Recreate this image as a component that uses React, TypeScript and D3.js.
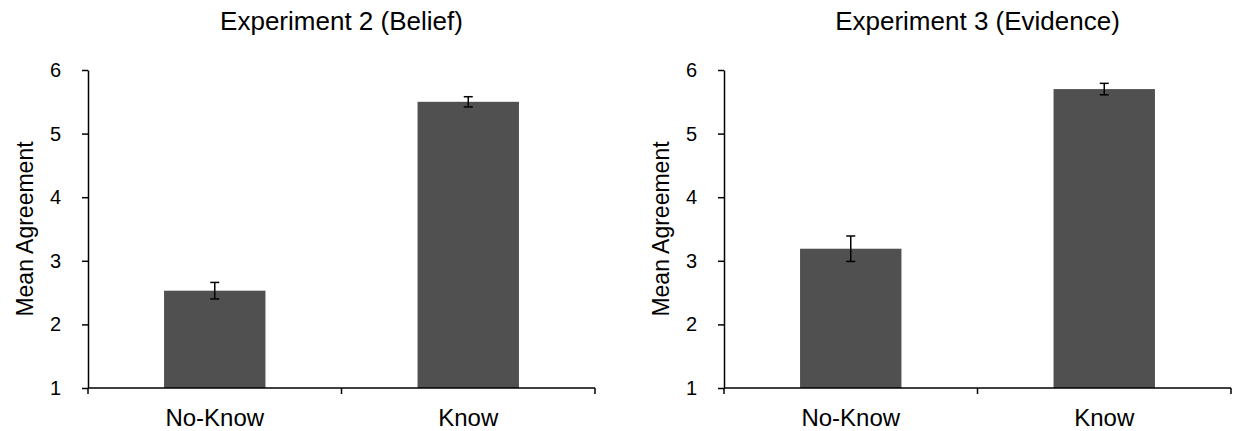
import React, { useEffect, useRef } from 'react';
import * as d3 from 'd3';

const categories = ['No-Know', 'Know'];
const yTicks = [1, 2, 3, 4, 5, 6];

const beliefMeans = [2.53, 5.5];
const beliefErrors = [0.13, 0.08];

const evidenceMeans = [3.19, 5.7];
const evidenceErrors = [0.2, 0.09];

const FONT = '"Liberation Sans", Arial, Helvetica, sans-serif';

type PanelProps = {
  title: string;
  means: number[];
  errors: number[];
  left: number;
};

const Panel = ({ title, means, errors, left }: PanelProps) => {
  const gRef = useRef<SVGGElement>(null);

  useEffect(() => {
    const g = d3.select(gRef.current);
    g.selectAll('*').remove();

    const axisLeft = left;
    const axisRight = left + 507;
    const top = 70;
    const bottom = 388;

    const x = d3.scaleBand<string>()
      .domain(categories)
      .range([axisLeft, axisRight])
      .paddingInner(0.6)
      .paddingOuter(0.3);

    const y = d3.scaleLinear().domain([1, 6]).range([bottom, top]);

    const data = categories.map((c, i) => ({ cat: c, mean: means[i], err: errors[i] }));

    // bars
    g.selectAll('rect.bar')
      .data(data)
      .enter().append('rect')
      .attr('class', 'bar')
      .attr('x', d => x(d.cat)!)
      .attr('width', x.bandwidth())
      .attr('y', d => y(d.mean))
      .attr('height', d => y(1) - y(d.mean))
      .attr('fill', '#505050');

    // error bars
    const eb = g.selectAll('g.err')
      .data(data)
      .enter().append('g')
      .attr('class', 'err')
      .attr('stroke', '#000')
      .attr('stroke-width', 1.5);
    const cx = (d: { cat: string }) => x(d.cat)! + x.bandwidth() / 2;
    eb.append('line')
      .attr('x1', cx).attr('x2', cx)
      .attr('y1', d => y(d.mean + d.err)).attr('y2', d => y(d.mean - d.err));
    eb.append('line')
      .attr('x1', d => cx(d) - 4.5).attr('x2', d => cx(d) + 4.5)
      .attr('y1', d => y(d.mean + d.err)).attr('y2', d => y(d.mean + d.err));
    eb.append('line')
      .attr('x1', d => cx(d) - 4.5).attr('x2', d => cx(d) + 4.5)
      .attr('y1', d => y(d.mean - d.err)).attr('y2', d => y(d.mean - d.err));

    // y axis
    const yAxis = g.append('g')
      .attr('transform', `translate(${axisLeft},0)`)
      .call(d3.axisLeft(y).tickValues(yTicks).tickFormat(d3.format('d')).tickSize(6).tickSizeOuter(0).tickPadding(21));
    yAxis.select('.domain').attr('stroke-width', 1.5);
    yAxis.selectAll('.tick line').attr('stroke-width', 1.5);
    yAxis.selectAll('.tick text')
      .attr('font-family', FONT)
      .attr('font-size', 20)
      .attr('fill', '#000');

    // x axis
    g.append('line')
      .attr('x1', axisLeft).attr('x2', axisRight)
      .attr('y1', bottom).attr('y2', bottom)
      .attr('stroke', '#000').attr('stroke-width', 1.5);
    const boundaries = [axisLeft, (axisLeft + axisRight) / 2, axisRight];
    g.selectAll('line.xtick')
      .data(boundaries)
      .enter().append('line')
      .attr('class', 'xtick')
      .attr('x1', d => d).attr('x2', d => d)
      .attr('y1', bottom).attr('y2', bottom + 6)
      .attr('stroke', '#000').attr('stroke-width', 1.5);

    g.selectAll('text.cat')
      .data(categories)
      .enter().append('text')
      .attr('class', 'cat')
      .attr('x', d => x(d)! + x.bandwidth() / 2)
      .attr('y', 426)
      .attr('text-anchor', 'middle')
      .attr('font-family', FONT)
      .attr('font-size', 24)
      .text(d => d);

    // y label
    g.append('text')
      .attr('transform', `translate(${axisLeft - 55},${(top + bottom) / 2}) rotate(-90)`)
      .attr('text-anchor', 'middle')
      .attr('font-family', FONT)
      .attr('font-size', 23)
      .text('Mean Agreement');

    // title
    g.append('text')
      .attr('x', (axisLeft + axisRight) / 2)
      .attr('y', 30)
      .attr('text-anchor', 'middle')
      .attr('font-family', FONT)
      .attr('font-size', 26)
      .text(title);
  }, [title, means, errors, left]);

  return <g ref={gRef}></g>;
};

const App = () => (
  <svg width={1238} height={431} style={{ position: 'absolute', left: 0, top: 0, background: '#fff' }}>
    <rect width={1238} height={431} fill="#fff" />
    <Panel title="Experiment 2 (Belief)" means={beliefMeans} errors={beliefErrors} left={88} />
    <Panel title="Experiment 3 (Evidence)" means={evidenceMeans} errors={evidenceErrors} left={724} />
  </svg>
);

export default App;
